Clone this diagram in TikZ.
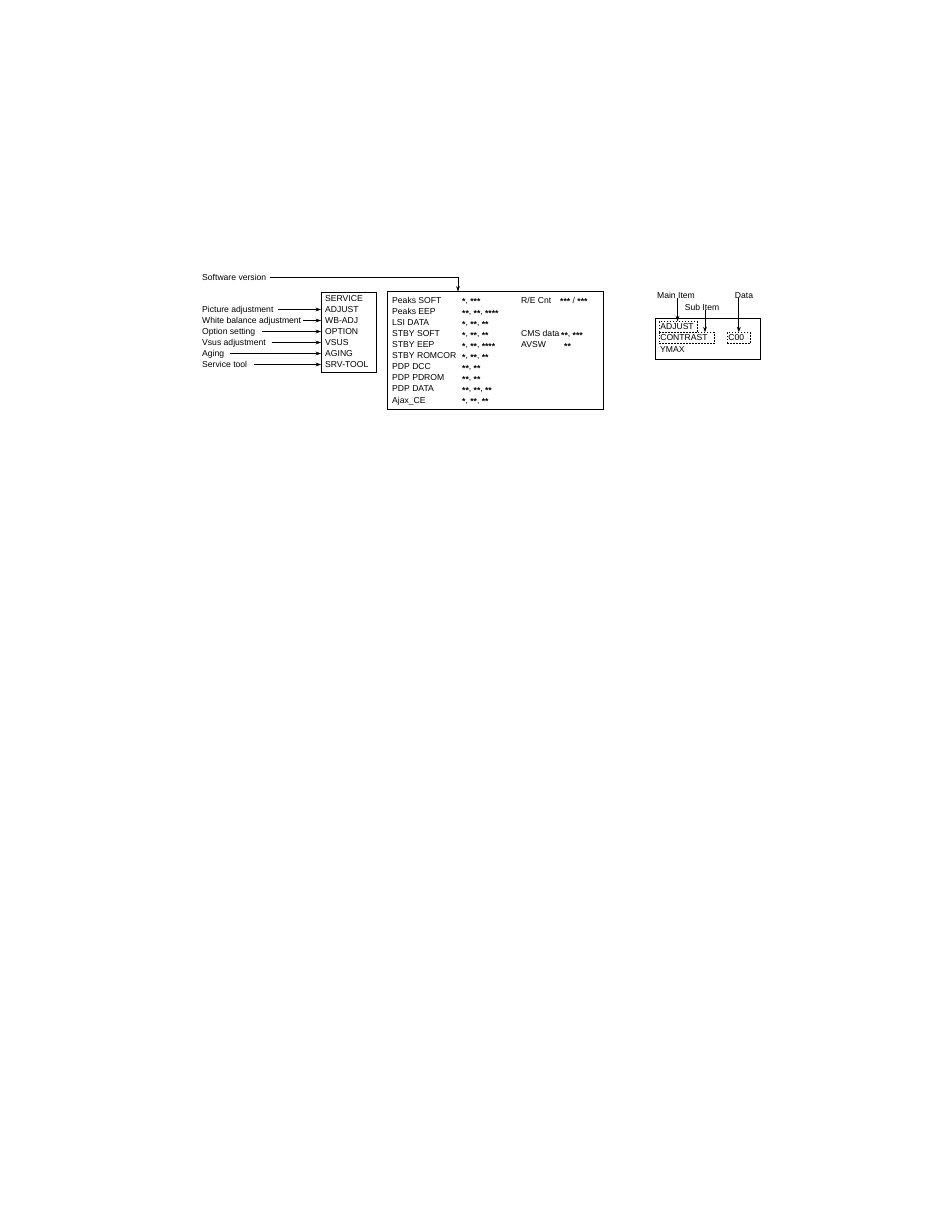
\documentclass[tikz,border=0pt]{standalone}
\usepackage{fontspec}
\setmainfont{Liberation Sans}
\usetikzlibrary{arrows.meta}
\newcommand{\st}{\raisebox{-1.8pt}{\bfseries *}}
\begin{document}
\begin{tikzpicture}[x=1pt,y=-1pt,
  txt/.style={font=\fontsize{8.6}{10}\selectfont, inner sep=0pt, text height=6.3pt, text depth=0pt, anchor=west},
  lbl/.style={txt, inner xsep=0pt},
  frame/.style={draw, line width=1pt, inner sep=0pt},
  arr/.style={line width=0.7pt, -{Stealth[length=5.5pt,width=3.8pt]}},
  dbox/.style={txt, draw, dash pattern=on 1.6pt off 1.4pt, line width=0.6pt, inner xsep=1pt, minimum height=11pt, text depth=2pt, text height=7pt, align=left}
]
\useasboundingbox (0,0) rectangle (935,1210);
\fill[white] (0,0) rectangle (935,1210);

% ---------- SERVICE box ----------
\node[frame, minimum width=54.5pt, minimum height=80pt] (svcbox) at (348.75,332) {};
\node[txt] (s0) at (325,298.5) {SERVICE};
\node[txt] (s1) at (325,309.5) {ADJUST};
\node[txt] (s2) at (325,320.5) {WB-ADJ};
\node[txt] (s3) at (325,331.5) {OPTION};
\node[txt] (s4) at (325,342.5) {VSUS};
\node[txt] (s5) at (325,353.5) {AGING};
\node[txt] (s6) at (325,364.5) {SRV-TOOL};

\node[lbl] (l1) at (202,309.5) {Picture adjustment};
\node[lbl] (l2) at (202,320.5) {White balance adjustment};
\node[lbl] (l3) at (202,331.5) {Option setting};
\node[lbl] (l4) at (202,342.5) {Vsus adjustment};
\node[lbl] (l5) at (202,353.5) {Aging};
\node[lbl] (l6) at (202,364.5) {Service tool};

\draw[arr, shorten <=4pt] (l1.east) -- (l1.east -| svcbox.west);
\draw[arr, shorten <=2pt] (l2.east) -- (l2.east -| svcbox.west);
\draw[arr, shorten <=7pt] (l3.east) -- (l3.east -| svcbox.west);
\draw[arr, shorten <=6pt] (l4.east) -- (l4.east -| svcbox.west);
\draw[arr, shorten <=6pt] (l5.east) -- (l5.east -| svcbox.west);
\draw[arr, shorten <=7pt] (l6.east) -- (l6.east -| svcbox.west);

% ---------- main info box ----------
\node[frame, minimum width=216.5pt, minimum height=117.5pt] (mainbox) at (495.25,350.25) {};
\node[lbl] (sw) at (202,277) {Software version};
\coordinate (swtip) at (458,291.5);
\draw[arr, shorten <=4pt] (sw.east) -| (swtip);

\node[txt] (a1) at (392,300.0) {Peaks SOFT};
\node[txt] (a2) at (392,311.1) {Peaks EEP};
\node[txt] (a3) at (392,322.2) {LSI DATA};
\node[txt] (a4) at (392,333.3) {STBY SOFT};
\node[txt] (a5) at (392,344.4) {STBY EEP};
\node[txt] (a6) at (392,355.5) {STBY ROMCOR};
\node[txt] (a7) at (392,366.6) {PDP DCC};
\node[txt] (a8) at (392,377.7) {PDP PDROM};
\node[txt] (a9) at (392,388.8) {PDP DATA};
\node[txt] (a10) at (392,400.0) {Ajax\_CE};

\node[txt] (b1) at (462,300.0) {\st, \st\st\st};
\node[txt] (b2) at (462,311.1) {\st\st, \st\st, \st\st\st\st};
\node[txt] (b3) at (462,322.2) {\st, \st\st, \st\st};
\node[txt] (b4) at (462,333.3) {\st, \st\st, \st\st};
\node[txt] (b5) at (462,344.4) {\st, \st\st, \st\st\st\st};
\node[txt] (b6) at (462,355.5) {\st, \st\st, \st\st};
\node[txt] (b7) at (462,366.6) {\st\st, \st\st};
\node[txt] (b8) at (462,377.7) {\st\st, \st\st};
\node[txt] (b9) at (462,388.8) {\st\st, \st\st, \st\st};
\node[txt] (b10) at (462,400.0) {\st, \st\st, \st\st};

\node[txt] (c1) at (521,300.0) {R/E Cnt};
\node[txt] (d1) at (560,300.0) {\st\st\st\ / \st\st\st};
\node[txt] (c4) at (521,333.3) {CMS data};
\node[txt] (d4) at (561,333.3) {\st\st, \st\st\st};
\node[txt] (c5) at (521,344.4) {AVSW};
\node[txt] (d5) at (564,344.4) {\st\st};

% ---------- display example ----------
\node[frame, minimum width=105pt, minimum height=41pt] (dispbox) at (707.5,338.5) {};
\node[dbox, text width=36pt] (adj) at (659,327) {ADJUST};
\node[dbox, text width=53pt] (con) at (659,338) {CONTRAST};
\node[dbox, text width=21pt] (dat) at (727,338) {C00};
\node[txt] (ymax) at (660,349) {YMAX};

\node[txt, anchor=center] (mainl) at (676,295) {Main Item};
\node[txt, anchor=center] (subl) at (702,307) {Sub Item};
\node[txt, anchor=center] (datal) at (744,295) {Data};

\draw[arr] (mainl.south) ++(1.5,0) coordinate (mi) -- (mi |- adj.north);
\draw[arr] (subl.south) ++(3,0) coordinate (si) -- (si |- con.north);
\draw[arr] (dat.north |- datal.south) -- (dat.north);
\end{tikzpicture}
\end{document}
